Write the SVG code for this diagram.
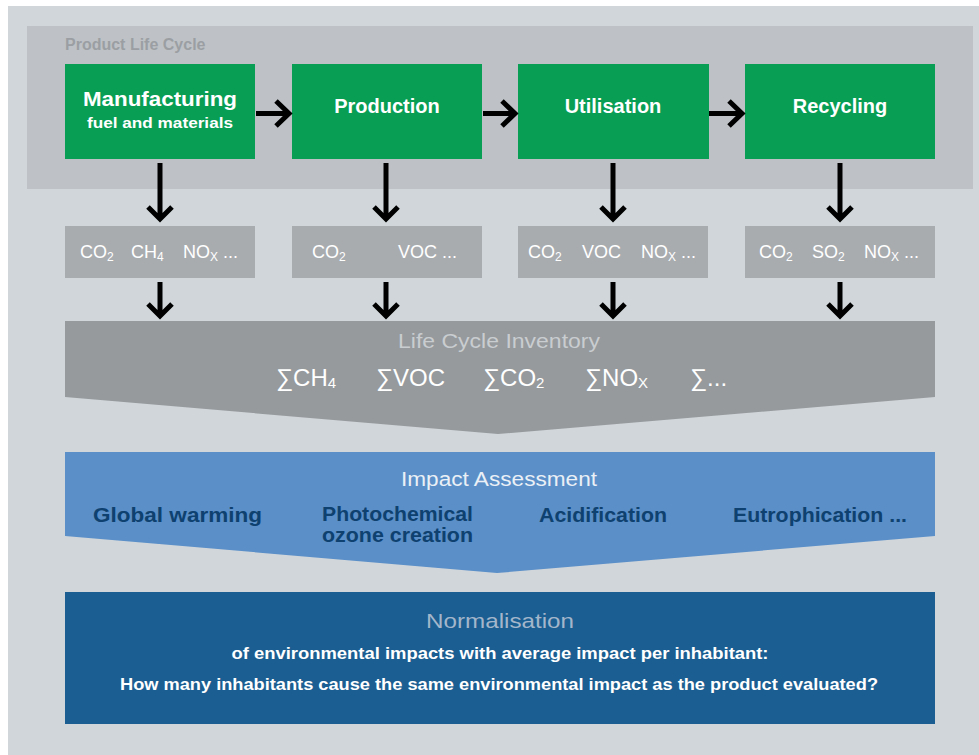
<svg xmlns="http://www.w3.org/2000/svg" width="979" height="755" viewBox="0 0 979 755">
<style>
.t{font-family:"Liberation Sans",Arial,sans-serif}
.grn{fill:#089e54}
.emi{fill:#a9acaf}
.wb{fill:#ffffff;font-weight:bold}
.em{fill:#ffffff;font-size:18px}
.sub{font-size:12px}
.ia{fill:#0e416f;font-size:21px;font-weight:bold}
.arr{stroke:#000;stroke-width:5;fill:none}
</style>
<rect x="0" y="0" width="979" height="755" fill="#ffffff"/>
<rect x="8" y="6" width="971" height="749" fill="#d1d6da"/>
<g id="lifecycle">
<rect x="27" y="26" width="946" height="163" fill="#bec2c6"/>
<text class="t" x="65" y="50" font-size="16" font-weight="bold" fill="#9b9fa3">Product Life Cycle</text>
</g>
<g id="manufacturing">
<rect class="grn" x="65" y="64" width="190" height="95"/>
<text class="t wb" x="160" y="106" font-size="20" text-anchor="middle" textLength="154" lengthAdjust="spacingAndGlyphs">Manufacturing</text>
<text class="t wb" x="160" y="128" font-size="15" text-anchor="middle" textLength="146" lengthAdjust="spacingAndGlyphs">fuel and materials</text>
</g>
<g id="production">
<rect class="grn" x="292" y="64" width="190" height="95"/>
<text class="t wb" x="387" y="113" font-size="20" text-anchor="middle">Production</text>
</g>
<g id="utilisation">
<rect class="grn" x="518" y="64" width="191" height="95"/>
<text class="t wb" x="613" y="113" font-size="20" text-anchor="middle">Utilisation</text>
</g>
<g id="recycling">
<rect class="grn" x="745" y="64" width="190" height="95"/>
<text class="t wb" x="840" y="113" font-size="20" text-anchor="middle">Recycling</text>
</g>
<g id="emissions1">
<rect class="emi" x="65" y="226" width="190" height="52"/>
<text class="t em" x="80" y="258">CO<tspan class="sub" dy="3">2</tspan></text>
<text class="t em" x="131" y="258">CH<tspan class="sub" dy="3">4</tspan></text>
<text class="t em" x="183" y="258">NO<tspan class="sub" dy="3">X</tspan><tspan dy="-3"> ...</tspan></text>
</g>
<g id="emissions2">
<rect class="emi" x="292" y="226" width="190" height="52"/>
<text class="t em" x="312" y="258">CO<tspan class="sub" dy="3">2</tspan></text>
<text class="t em" x="398" y="258">VOC ...</text>
</g>
<g id="emissions3">
<rect class="emi" x="518" y="226" width="190" height="52"/>
<text class="t em" x="528" y="258">CO<tspan class="sub" dy="3">2</tspan></text>
<text class="t em" x="582" y="258">VOC</text>
<text class="t em" x="641" y="258">NO<tspan class="sub" dy="3">X</tspan><tspan dy="-3"> ...</tspan></text>
</g>
<g id="emissions4">
<rect class="emi" x="745" y="226" width="190" height="52"/>
<text class="t em" x="759" y="258">CO<tspan class="sub" dy="3">2</tspan></text>
<text class="t em" x="812" y="258">SO<tspan class="sub" dy="3">2</tspan></text>
<text class="t em" x="864" y="258">NO<tspan class="sub" dy="3">X</tspan><tspan dy="-3"> ...</tspan></text>
</g>
<g id="inventory">
<polygon points="65,321 935,321 935,397 498,434 65,397" fill="#969a9d"/>
<text class="t" x="499" y="348" font-size="20" fill="#c9cdd0" text-anchor="middle" textLength="202" lengthAdjust="spacingAndGlyphs">Life Cycle Inventory</text>
<g class="t" fill="#ffffff" font-size="24">
<text x="276" y="386">∑CH<tspan font-size="15" dy="2">4</tspan></text>
<text x="376" y="386">∑VOC</text>
<text x="483" y="386">∑CO<tspan font-size="15" dy="2">2</tspan></text>
<text x="585" y="386">∑NO<tspan font-size="15" dy="2">X</tspan></text>
<text x="690" y="386">∑...</text>
</g>
</g>
<g id="impact">
<polygon points="65,452 935,452 935,536 497,573 65,536" fill="#5a8fc8"/>
<text class="t" x="499" y="486" font-size="20" fill="#eaf0f6" text-anchor="middle" textLength="196" lengthAdjust="spacingAndGlyphs">Impact Assessment</text>
<text class="t ia" x="93" y="522" textLength="169" lengthAdjust="spacingAndGlyphs">Global warming</text>
<text class="t ia" x="322" y="521" font-size="18" textLength="151" lengthAdjust="spacingAndGlyphs">Photochemical</text>
<text class="t ia" x="322" y="542" font-size="18" textLength="151" lengthAdjust="spacingAndGlyphs">ozone creation</text>
<text class="t ia" x="539" y="522" textLength="128" lengthAdjust="spacingAndGlyphs">Acidification</text>
<text class="t ia" x="733" y="522" textLength="174" lengthAdjust="spacingAndGlyphs">Eutrophication ...</text>
</g>
<g id="normalisation">
<rect x="65" y="592" width="870" height="132" fill="#1b5e91"/>
<text class="t" x="500" y="628" font-size="21" fill="#a3b6cb" text-anchor="middle" textLength="148" lengthAdjust="spacingAndGlyphs">Normalisation</text>
<text class="t" x="500" y="659" font-size="16" font-weight="bold" fill="#ffffff" text-anchor="middle" textLength="537" lengthAdjust="spacingAndGlyphs">of environmental impacts with average impact per inhabitant:</text>
<text class="t" x="499" y="690" font-size="16" font-weight="bold" fill="#ffffff" text-anchor="middle" textLength="758" lengthAdjust="spacingAndGlyphs">How many inhabitants cause the same environmental impact as the product evaluated?</text>
</g>
<g id="connectors" class="arr">
<path d="M256 113.5 H290 M276 101 L289 113.5 L276 126"/>
<path d="M483 113.5 H516 M502 101 L515 113.5 L502 126"/>
<path d="M709 113.5 H743 M729 101 L742 113.5 L729 126"/>
<path d="M160 163 V218 M148 207 L160 219 L172 207"/>
<path d="M386 163 V218 M374 207 L386 219 L398 207"/>
<path d="M613 163 V218 M601 207 L613 219 L625 207"/>
<path d="M840 163 V218 M828 207 L840 219 L852 207"/>
<path d="M160 282 V316 M148 304 L160 316 L172 304"/>
<path d="M386 282 V316 M374 304 L386 316 L398 304"/>
<path d="M613 282 V316 M601 304 L613 316 L625 304"/>
<path d="M840 282 V316 M828 304 L840 316 L852 304"/>
</g>
</svg>
